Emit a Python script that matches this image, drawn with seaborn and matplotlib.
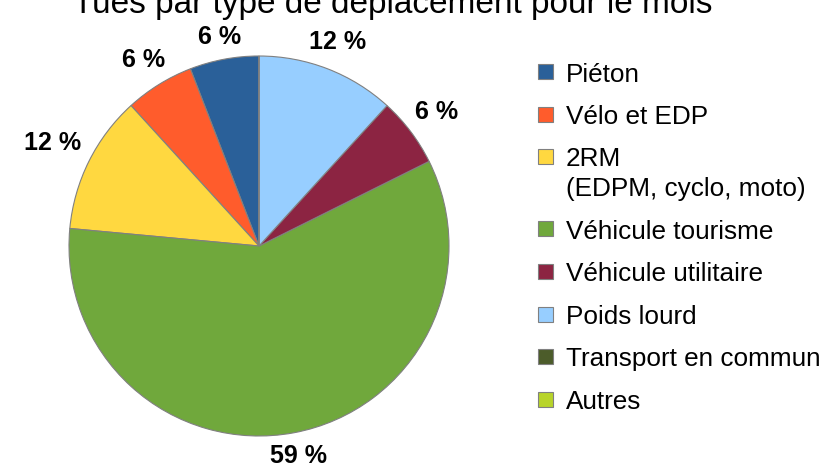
import matplotlib.pyplot as plt
import numpy as np
import seaborn as sns
from matplotlib.patches import Rectangle

CATEGORIES = [
    "Piéton",
    "Vélo et EDP",
    "2RM\n(EDPM, cyclo, moto)",
    "Véhicule tourisme",
    "Véhicule utilitaire",
    "Poids lourd",
    "Transport en commun",
    "Autres",
]
VALUES = [1, 1, 2, 10, 1, 2, 0, 0]
COLORS = ["#2a6099", "#ff5c2c", "#ffd840", "#70a83c", "#8c2442",
          "#97ceff", "#4c5c2a", "#b8d42a"]
TITLE = "Tués par type de déplacement pour le mois"

sns.set_theme(style="white")
plt.rcParams["font.family"] = ["Liberation Sans", "DejaVu Sans"]

W, H = 822, 469
fig = plt.figure(figsize=(W / 100, H / 100), dpi=100)

# pie: centre (259, 246), radius 190 px
R = 190
ax = fig.add_axes([(259 - R) / W, (H - 246 - R) / H, 2 * R / W, 2 * R / H])
wedges, _ = ax.pie(
    VALUES, colors=COLORS, startangle=90, counterclock=True, radius=1,
    wedgeprops=dict(edgecolor="#808080", linewidth=0.8),
)
ax.set_xlim(-1, 1)
ax.set_ylim(-1, 1)
ax.set_aspect("equal")
ax.axis("off")

# percentage labels just outside each wedge
total = sum(VALUES)
fig.canvas.draw()
renderer = fig.canvas.get_renderer()
for w, v in zip(wedges, VALUES):
    if v == 0:
        continue
    ang = np.deg2rad((w.theta1 + w.theta2) / 2)
    c, s = np.cos(ang), np.sin(ang)
    t = ax.text(0, 0, f"{round(100 * v / total)} %", ha="center", va="center",
                fontsize=18, fontweight="bold", color="black", clip_on=False)
    bb = t.get_window_extent(renderer)
    hw, hh = bb.width / 2 / R, bb.height / 2 / R
    r = 1.06 + abs(c) * hw + abs(s) * hh * 0.6
    t.set_position((r * c, r * s))

# legend, laid out by hand so multi-line entries keep the box on line one
y = 72
for label, color in zip(CATEGORIES, COLORS):
    fig.patches.append(Rectangle(
        (538 / W, 1 - (y + 7.5) / H), 15 / W, 15 / H,
        transform=fig.transFigure, facecolor=color, edgecolor="#808080",
        linewidth=0.8))
    lines = label.split("\n")
    for i, line in enumerate(lines):
        fig.text(566 / W, 1 - (y + i * 29.5) / H, line, ha="left",
                 va="center_baseline", fontsize=18.8, color="black")
    y += 42.5 + (len(lines) - 1) * 29.5

fig.text(393 / W, 1 - 13 / H, TITLE, ha="center", va="baseline", fontsize=24,
         color="black")

fig.savefig("out.png", dpi=100)
